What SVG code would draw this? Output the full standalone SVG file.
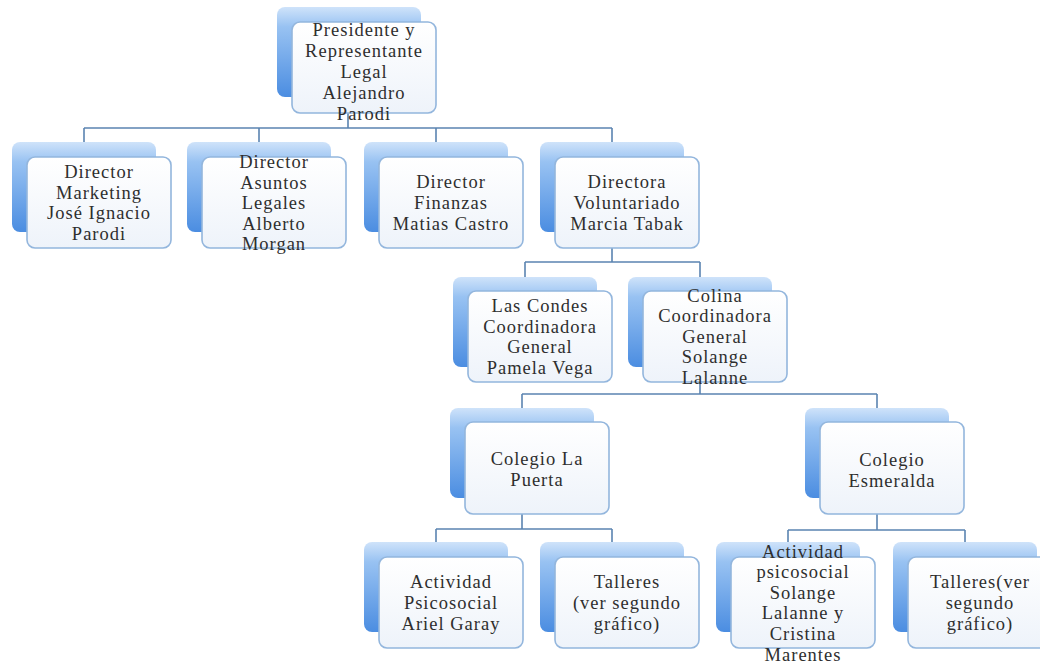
<svg xmlns="http://www.w3.org/2000/svg" width="1040" height="668" viewBox="0 0 1040 668">
<defs>
<linearGradient id="gBack" x1="0" y1="0" x2="0" y2="1">
<stop offset="0" stop-color="#cfe3fa"/>
<stop offset="0.22" stop-color="#98c2f2"/>
<stop offset="1" stop-color="#4b8de1"/>
</linearGradient>
<linearGradient id="gFront" x1="0" y1="0" x2="0" y2="1">
<stop offset="0" stop-color="#ffffff"/>
<stop offset="1" stop-color="#eef3fa"/>
</linearGradient>
<style>
.back{fill:url(#gBack);}
.front{fill:url(#gFront);stroke:#93b6dd;stroke-width:1.6;}
.t{font-family:"Liberation Serif","Times New Roman",serif;font-size:18.5px;letter-spacing:1px;fill:#2e2e2e;text-anchor:middle;}
.c{fill:none;stroke:#5b84b1;stroke-width:1.6;}
</style>
</defs>
<rect width="1040" height="668" fill="#ffffff"/>
<g id="connectors">
<path class="c" d="M348,113 V128 M84,128 H612 M84,128 V142 M259,128 V142 M436,128 V142 M612,128 V142"/>
<path class="c" d="M612,248 V262 M525,262 H700 M525,262 V277 M700,262 V277"/>
<path class="c" d="M700,382 V394 M522,394 H877 M522,394 V408 M877,394 V408"/>
<path class="c" d="M522,514 V529 M436,529 H612 M436,529 V542 M612,529 V542"/>
<path class="c" d="M877,514 V530 M788,530 H965 M788,530 V542 M965,530 V542"/>
</g>
<g id="n-presidente">
<rect class="back" x="277" y="7" width="144" height="90" rx="8"/>
<rect class="front" x="292" y="22" width="144" height="91" rx="8"/>
<text class="t" x="364" y="36"><tspan x="364">Presidente y</tspan><tspan x="364" dy="21">Representante</tspan><tspan x="364" dy="21">Legal</tspan><tspan x="364" dy="21">Alejandro</tspan><tspan x="364" dy="21">Parodi</tspan></text>
</g>
<g id="n-marketing">
<rect class="back" x="12" y="142" width="144" height="90" rx="8"/>
<rect class="front" x="27" y="157" width="144" height="91" rx="8"/>
<text class="t" x="99" y="178"><tspan x="99">Director</tspan><tspan x="99" dy="20.6">Marketing</tspan><tspan x="99" dy="20.6">José Ignacio</tspan><tspan x="99" dy="20.6">Parodi</tspan></text>
</g>
<g id="n-legales">
<rect class="back" x="187" y="142" width="144" height="90" rx="8"/>
<rect class="front" x="202" y="157" width="144" height="91" rx="8"/>
<text class="t" x="274" y="168"><tspan x="274">Director</tspan><tspan x="274" dy="20.6">Asuntos</tspan><tspan x="274" dy="20.6">Legales</tspan><tspan x="274" dy="20.6">Alberto</tspan><tspan x="274" dy="20.6">Morgan</tspan></text>
</g>
<g id="n-finanzas">
<rect class="back" x="364" y="142" width="144" height="90" rx="8"/>
<rect class="front" x="379" y="157" width="144" height="91" rx="8"/>
<text class="t" x="451" y="188.4"><tspan x="451">Director</tspan><tspan x="451" dy="20.6">Finanzas</tspan><tspan x="451" dy="20.6">Matias Castro</tspan></text>
</g>
<g id="n-voluntariado">
<rect class="back" x="540" y="142" width="144" height="90" rx="8"/>
<rect class="front" x="555" y="157" width="144" height="91" rx="8"/>
<text class="t" x="627" y="188.4"><tspan x="627">Directora</tspan><tspan x="627" dy="20.6">Voluntariado</tspan><tspan x="627" dy="20.6">Marcia Tabak</tspan></text>
</g>
<g id="n-lascondes">
<rect class="back" x="453" y="277" width="144" height="90" rx="8"/>
<rect class="front" x="468" y="291" width="144" height="91" rx="8"/>
<text class="t" x="540" y="312"><tspan x="540">Las Condes</tspan><tspan x="540" dy="20.6">Coordinadora</tspan><tspan x="540" dy="20.6">General</tspan><tspan x="540" dy="20.6">Pamela Vega</tspan></text>
</g>
<g id="n-colina">
<rect class="back" x="628" y="277" width="144" height="90" rx="8"/>
<rect class="front" x="643" y="291" width="144" height="91" rx="8"/>
<text class="t" x="715" y="301.5"><tspan x="715">Colina</tspan><tspan x="715" dy="20.6">Coordinadora</tspan><tspan x="715" dy="20.6">General</tspan><tspan x="715" dy="20.6">Solange</tspan><tspan x="715" dy="20.6">Lalanne</tspan></text>
</g>
<g id="n-lapuerta">
<rect class="back" x="450" y="408" width="144" height="90" rx="8"/>
<rect class="front" x="465" y="422" width="144" height="92" rx="8"/>
<text class="t" x="537" y="465"><tspan x="537">Colegio La</tspan><tspan x="537" dy="21">Puerta</tspan></text>
</g>
<g id="n-esmeralda">
<rect class="back" x="805" y="408" width="144" height="90" rx="8"/>
<rect class="front" x="820" y="422" width="144" height="92" rx="8"/>
<text class="t" x="892" y="466"><tspan x="892">Colegio</tspan><tspan x="892" dy="21">Esmeralda</tspan></text>
</g>
<g id="n-psicosocial-ariel">
<rect class="back" x="364" y="542" width="144" height="90" rx="8"/>
<rect class="front" x="379" y="557" width="144" height="91" rx="8"/>
<text class="t" x="451" y="588.4"><tspan x="451">Actividad</tspan><tspan x="451" dy="20.6">Psicosocial</tspan><tspan x="451" dy="20.6">Ariel Garay</tspan></text>
</g>
<g id="n-talleres-1">
<rect class="back" x="540" y="542" width="144" height="90" rx="8"/>
<rect class="front" x="555" y="557" width="144" height="91" rx="8"/>
<text class="t" x="627" y="588.4"><tspan x="627">Talleres</tspan><tspan x="627" dy="20.6">(ver segundo</tspan><tspan x="627" dy="20.6">gráfico)</tspan></text>
</g>
<g id="n-psicosocial-solange">
<rect class="back" x="716" y="542" width="144" height="90" rx="8"/>
<rect class="front" x="731" y="557" width="144" height="91" rx="8"/>
<text class="t" x="803" y="557.5"><tspan x="803">Actividad</tspan><tspan x="803" dy="20.6">psicosocial</tspan><tspan x="803" dy="20.6">Solange</tspan><tspan x="803" dy="20.6">Lalanne y</tspan><tspan x="803" dy="20.6">Cristina</tspan><tspan x="803" dy="20.6">Marentes</tspan></text>
</g>
<g id="n-talleres-2">
<rect class="back" x="893" y="542" width="144" height="90" rx="8"/>
<rect class="front" x="908" y="557" width="144" height="91" rx="8"/>
<text class="t" x="980" y="588.4"><tspan x="980">Talleres(ver</tspan><tspan x="980" dy="20.6">segundo</tspan><tspan x="980" dy="20.6">gráfico)</tspan></text>
</g>
</svg>
